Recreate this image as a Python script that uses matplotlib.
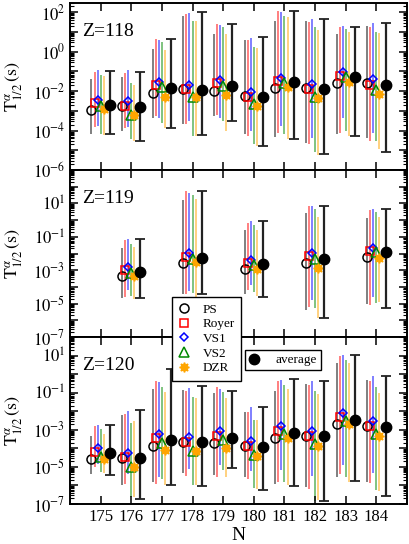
import numpy as np
import matplotlib
matplotlib.use('Agg')
import matplotlib.pyplot as plt
from matplotlib.lines import Line2D
from matplotlib.ticker import LogLocator, FuncFormatter, NullFormatter

plt.rcParams['font.family'] = ['Liberation Serif', 'DejaVu Serif']
plt.rcParams['mathtext.fontset'] = 'stix'

# neutron numbers
N_118 = [175, 176, 177, 178, 179, 180, 181, 182, 183, 184]
N_119 = [176, 178, 180, 182, 184]
N_120 = [175, 176, 177, 178, 179, 180, 181, 182, 183, 184]

# log10 T1/2 (s): (value, lower end, upper end)
ps_118 = [(-2.97, -4.16, -1.40), (-2.74, -4.03, -1.26), (-2.10, -3.36, 0.16), (-1.90, -3.69, 1.83), (-1.97, -3.27, 0.91),
          (-2.23, -4.19, 0.58), (-1.85, -4.31, 1.58), (-1.85, -4.61, 1.55), (-1.56, -4.19, 0.91), (-1.60, -4.36, 1.33)]
royer_118 = [(-2.60, -3.81, -1.01), (-2.77, -3.86, -1.10), (-1.70, -3.27, 0.66), (-1.90, -3.64, 1.92), (-1.60, -3.19, 1.41),
             (-2.27, -4.28, 0.58), (-1.48, -4.11, 2.08), (-1.90, -4.69, 1.50), (-1.23, -4.11, 1.25), (-1.68, -4.53, 1.25)]
vs1_118 = [(-2.44, -3.77, -0.90), (-2.52, -3.81, -0.93), (-1.53, -3.36, 0.58), (-1.68, -3.52, 1.97), (-1.43, -3.36, 1.38),
           (-2.02, -4.03, 0.71), (-1.31, -3.77, 2.00), (-1.63, -4.36, 1.67), (-1.01, -3.36, 1.33), (-1.40, -4.11, 1.45)]
vs2_118 = [(-2.74, -4.19, -1.18), (-3.19, -4.44, -1.60), (-1.80, -3.61, 0.49), (-2.27, -4.28, 1.58), (-1.73, -3.52, 1.25),
           (-2.64, -4.69, 0.24), (-1.56, -4.19, 1.83), (-2.27, -5.11, 1.25), (-1.30, -4.03, 1.16), (-1.93, -4.53, 1.00)]
dzr_118 = [(-2.89, -4.24, -1.23), (-3.19, -4.53, -1.68), (-2.27, -3.86, 0.08), (-2.30, -4.28, 1.58), (-2.18, -4.03, 0.91),
           (-2.74, -4.78, 0.21), (-1.77, -4.41, 1.78), (-2.35, -5.25, 1.11), (-1.51, -4.28, 1.00), (-2.13, -4.95, 0.95)]
avg_118 = [(-2.69, -4.18, -0.96), (-2.82, -4.53, -1.05), (-1.82, -3.86, 0.66), (-1.93, -4.24, 2.00), (-1.72, -3.52, 1.41),
           (-2.30, -4.78, 0.74), (-1.55, -4.44, 2.08), (-1.90, -5.20, 1.67), (-1.30, -4.28, 1.28), (-1.68, -5.11, 1.45)]

ps_119 = [(-3.35, -4.66, -1.67), (-2.57, -4.44, 1.20), (-2.92, -4.40, -0.60), (-2.55, -5.36, 0.40), (-2.18, -5.03, 0.14)]
royer_119 = [(-2.96, -4.60, -1.22), (-2.18, -4.40, 1.76), (-2.55, -4.21, -0.17), (-2.16, -5.19, 0.86), (-1.85, -5.09, 0.59)]
vs1_119 = [(-2.80, -4.17, -1.15), (-1.99, -4.27, 1.64), (-2.36, -3.90, -0.07), (-1.99, -4.76, 0.84), (-1.65, -4.62, 0.65)]
vs2_119 = [(-3.16, -4.56, -1.44), (-2.32, -4.35, 1.49), (-2.69, -4.29, -0.27), (-2.30, -5.26, 0.67), (-1.93, -4.95, 0.47)]
dzr_119 = [(-3.35, -4.72, -1.60), (-2.53, -4.60, 1.29), (-2.94, -4.56, -0.58), (-2.88, -5.87, 0.18), (-2.26, -4.91, 0.16)]
avg_119 = [(-3.10, -4.66, -1.15), (-2.26, -4.44, 1.76), (-2.65, -4.58, -0.07), (-2.30, -5.85, 0.86), (-1.93, -5.26, 0.67)]

ps_120 = [(-4.60, -5.40, -3.33), (-4.51, -6.00, -2.22), (-3.87, -5.82, -0.82), (-3.64, -5.33, -0.84), (-3.73, -5.45, -1.00),
          (-3.87, -5.55, -2.02), (-3.44, -5.91, -0.91), (-3.31, -6.09, -0.53), (-2.69, -5.55, 0.60), (-2.78, -5.84, -0.31)]
royer_120 = [(-4.20, -5.02, -2.82), (-4.47, -5.91, -2.15), (-3.45, -5.91, -0.36), (-3.65, -5.49, -0.93), (-3.33, -5.55, -0.67),
             (-3.87, -5.64, -2.02), (-3.09, -5.82, -0.36), (-3.33, -6.18, -0.56), (-2.33, -5.36, 1.00), (-2.80, -5.85, -0.35)]
vs1_120 = [(-4.00, -4.85, -2.73), (-4.24, -5.36, -1.98), (-3.24, -5.55, -0.42), (-3.38, -5.13, -0.76), (-3.09, -4.91, -0.78),
           (-3.60, -5.22, -1.76), (-2.82, -5.15, -0.31), (-3.04, -5.49, -0.36), (-2.11, -4.91, 1.05), (-2.53, -5.33, -0.09)]
vs2_120 = [(-4.47, -5.30, -2.95), (-5.02, -6.64, -2.64), (-3.69, -5.64, -0.69), (-4.13, -5.95, -1.22), (-3.53, -5.18, -0.96),
           (-4.36, -6.13, -2.49), (-3.24, -5.80, -0.56), (-3.78, -6.82, -0.93), (-2.51, -5.55, 0.78), (-3.24, -6.27, -0.71)]
dzr_120 = [(-4.55, -5.33, -3.22), (-5.02, -6.64, -2.55), (-4.09, -6.00, -0.96), (-4.13, -6.00, -1.29), (-4.00, -5.55, -1.27),
           (-4.40, -6.20, -2.47), (-3.42, -6.00, -0.78), (-3.85, -6.78, -1.07), (-2.69, -5.80, 0.60), (-3.36, -6.31, -1.00)]
avg_120 = [(-4.27, -5.42, -2.73), (-4.53, -6.73, -1.95), (-3.56, -6.00, 0.30), (-3.67, -6.04, -0.65), (-3.45, -5.04, -0.93),
           (-3.93, -6.24, -1.78), (-3.16, -6.04, -0.27), (-3.36, -6.82, -0.36), (-2.45, -5.76, 1.02), (-2.85, -6.55, -0.09)]

models = ['PS', 'Royer', 'VS1', 'VS2', 'DZR']
colors = ['black', 'red', 'blue', '#008800', '#ffa500']
markers = ['o', 's', 'D', '^', (8, 1, 0)]
msizes = [6.5, 6, 4.5, 6.5, 7]
shifts = [-0.3, -0.2, -0.1, 0.0, 0.1]
avg_shift = 0.3


def draw_panel(ax, N, data, avg, ylim, labelled, ztext):
    for k, d in enumerate(data):
        d = np.array(d)
        x = np.array(N) + shifts[k]
        ax.vlines(x, 10**d[:, 1], 10**d[:, 2], color=colors[k], alpha=0.5, lw=1.4, zorder=1)
        filled = k == 4
        ax.plot(x, 10**d[:, 0], ls='none', marker=markers[k], ms=msizes[k],
                mfc=colors[k] if filled else 'none', mec=colors[k], mew=1.1, zorder=3)
    a = np.array(avg)
    v = 10**a[:, 0]
    ax.errorbar(np.array(N) + avg_shift, v, yerr=[v - 10**a[:, 1], 10**a[:, 2] - v],
                fmt='o', color='black', ms=7.5, ecolor='#222222', elinewidth=1.6,
                capsize=3.5, capthick=1.3, zorder=4)
    ax.set_yscale('log')
    ax.set_ylim(*ylim)
    ax.set_xlim(174, 185)
    ax.set_xticks(N_118)
    ax.yaxis.set_major_locator(LogLocator(base=10, numticks=30))
    ax.yaxis.set_minor_locator(LogLocator(base=10, subs=np.arange(2, 10), numticks=30))

    def fmt(val, pos):
        e = int(round(np.log10(val)))
        return r'$10^{%d}$' % e if e in labelled else ''
    ax.yaxis.set_major_formatter(FuncFormatter(fmt))
    ax.yaxis.set_minor_formatter(NullFormatter())
    ax.tick_params(which='both', direction='in', top=True, right=True)
    ax.tick_params(which='major', length=6, width=1.1, labelsize=12)
    ax.tick_params(which='minor', length=3, width=0.8)
    for s in ax.spines.values():
        s.set_linewidth(1.4)
    ax.text(0.035, 0.83, ztext, transform=ax.transAxes, fontsize=14, va='center')
    ax.set_ylabel(r'$\mathrm{T}_{1/2}^{\alpha}\,\mathrm{(s)}$', fontsize=13)
    ax.yaxis.set_label_coords(-0.135, 0.5)


fig = plt.figure(figsize=(4.09, 5.44), dpi=100)
gs = fig.add_gridspec(3, 1, left=70 / 409, right=407 / 409, top=1 - 3 / 544, bottom=1 - 504 / 544, hspace=0)
ax1 = fig.add_subplot(gs[0])
ax2 = fig.add_subplot(gs[1])
ax3 = fig.add_subplot(gs[2])

draw_panel(ax1, N_118, [ps_118, royer_118, vs1_118, vs2_118, dzr_118], avg_118, (1e-6, 3e2), [-6, -4, -2, 0, 2], 'Z=118')
draw_panel(ax2, N_119, [ps_119, royer_119, vs1_119, vs2_119, dzr_119], avg_119, (1e-7, 1e3), [-7, -5, -3, -1, 1], 'Z=119')
draw_panel(ax3, N_120, [ps_120, royer_120, vs1_120, vs2_120, dzr_120], avg_120, (1e-7, 1e2), [-7, -5, -3, -1, 1], 'Z=120')

ax1.tick_params(labelbottom=False)
ax2.tick_params(labelbottom=False)
ax3.tick_params(axis='x', labelsize=12)
ax3.set_xlabel('N', fontsize=14, labelpad=1.5)

handles = [Line2D([], [], ls='none', marker=markers[k], ms=msizes[k], mec=colors[k],
                  mfc=colors[k] if k == 4 else 'none', mew=1.1) for k in range(5)]
fig.legend(handles, models, loc='upper left', bbox_to_anchor=(172 / 409, 1 - 297 / 544),
           borderaxespad=0, fontsize=9.5, frameon=True, fancybox=False, edgecolor='black', framealpha=1,
           handlelength=0.8, handletextpad=1.0, labelspacing=0.18, borderpad=0.5)
avg_handle = Line2D([], [], ls='none', marker='o', ms=7.5, color='black')
fig.legend([avg_handle], ['average'], loc='upper left', bbox_to_anchor=(245 / 409, 1 - 350 / 544),
           borderaxespad=0, fontsize=9.5, frameon=True, fancybox=False, edgecolor='black', framealpha=1,
           handlelength=0.8, handletextpad=1.2, borderpad=0.3)

fig.savefig('out.png', dpi=100)
